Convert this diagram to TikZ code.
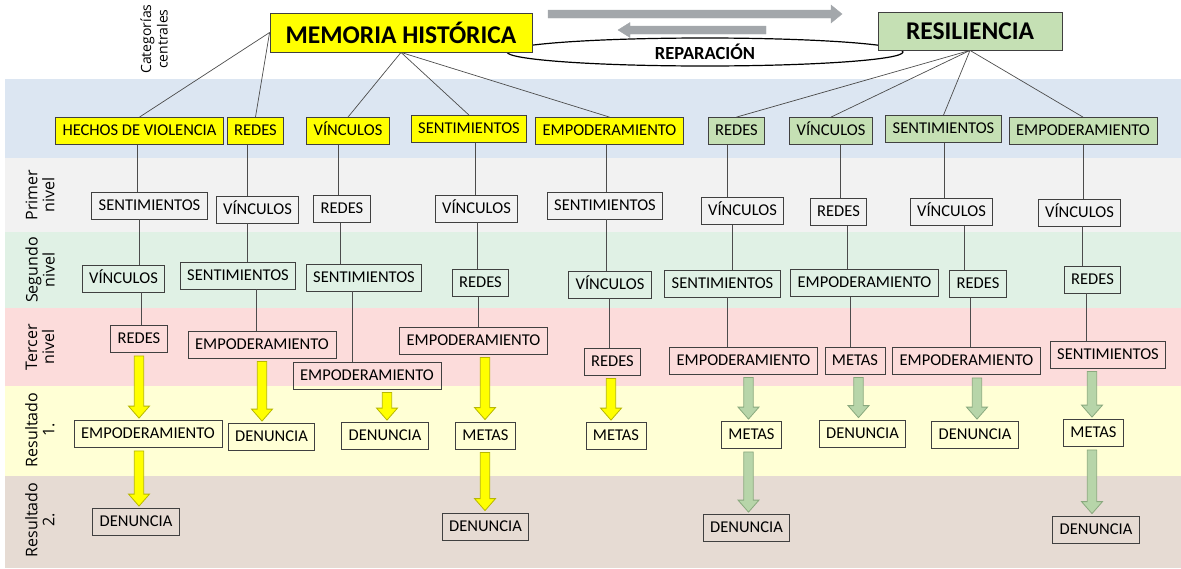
\documentclass[tikz,border=0pt]{standalone}
\usepackage{fontspec}
\setmainfont{Carlito}
\newfontfamily\labelfont{Open Sans}
\usetikzlibrary{positioning}
\usetikzlibrary{shapes.geometric}
\usetikzlibrary{calc}
\definecolor{bandblue}{HTML}{DCE6F2}
\definecolor{bandgrey}{HTML}{F2F2F2}
\definecolor{bandgreen}{HTML}{E0F1E5}
\definecolor{bandpink}{HTML}{FCDCDB}
\definecolor{bandyellow}{HTML}{FFFFD5}
\definecolor{bandbrown}{HTML}{E6DBD3}
\definecolor{memyellow}{HTML}{FFFF00}
\definecolor{resgreen}{HTML}{C5E0B4}
\definecolor{arrowgrey}{HTML}{A3A7AB}
\definecolor{yelline}{HTML}{B8B800}
\definecolor{greenfill}{HTML}{B7D5A9}
\definecolor{greenline}{HTML}{8AA97E}
% block arrow pointing down: from node, to node, x, style
\newcommand{\fatarrow}[4]{%
  \path (#1.south -| #3,0) coordinate (fa-t) (#2.north -| #3,0) coordinate (fa-b);
  \filldraw[#4] ($(fa-t)+(-4.7,3)$) -- ($(fa-b)+(-4.7,-14)$) -- ($(fa-b)+(-10.5,-14)$)
    -- ($(fa-b)+(0,-2)$) -- ($(fa-b)+(10.5,-14)$) -- ($(fa-b)+(4.7,-14)$)
    -- ($(fa-t)+(4.7,3)$) -- cycle;}

\begin{document}
\begin{tikzpicture}[x=1pt,y=-1pt,
  box/.style={draw=black!75, line width=0.8pt, inner xsep=7pt, minimum height=27pt,
    text height=11.5pt, text depth=2.5pt, font=\fontsize{16.5}{19}\selectfont},
  mbox/.style={box, fill=memyellow},
  rbox/.style={box, fill=resgreen},
  title/.style={draw=black!75, line width=0.8pt, inner sep=0pt,
    font=\bfseries\fontsize{25.5}{30}\selectfont},
  side/.style={rotate=90, align=center, font=\labelfont\fontsize{16}{17}\selectfont},
  link/.style={draw=black!70, line width=0.7pt},
  yarrow/.style={fill=memyellow, draw=yelline, line width=0.8pt},
  garrow/.style={fill=greenfill, draw=greenline, line width=0.8pt}]
\useasboundingbox (0,0) rectangle (1181,568);
% bands
\fill[bandblue] (5,79) rectangle (1181,158);
\fill[bandgrey] (5,158) rectangle (1181,232);
\fill[bandgreen] (5,232) rectangle (1181,308);
\fill[bandpink] (5,308) rectangle (1181,386);
\fill[bandyellow] (5,386) rectangle (1181,476);
\fill[bandbrown] (5,476) rectangle (1181,568);
% side labels
\node[side, font=\labelfont\fontsize{14}{16.5}\selectfont] (lab0) at (154,39) {Categorías\\centrales};
\node[side] (lab1) at (40,195) {Primer\\nivel};
\node[side] (lab2) at (40,270) {Segundo\\nivel};
\node[side] (lab3) at (40,347) {Tercer\\nivel};
\node[side] (lab4) at (40,430) {Resultado\\1.};
\node[side] (lab5) at (40,520) {Resultado\\2.};
% top
\filldraw[arrowgrey] (548,10) -- (831,10) -- (831,5) -- (842,14) -- (831,23) -- (831,18) -- (548,18) -- cycle;
\filldraw[arrowgrey] (766,26) -- (630,26) -- (630,22.5) -- (618,30) -- (630,37.5) -- (630,34) -- (766,34) -- cycle;
\node[ellipse, draw, line width=1.2pt, fill=white, inner sep=0pt, minimum width=396pt, minimum height=28pt,
  font=\bfseries\fontsize{18.5}{21}\selectfont] (rep) at (705,52) {REPARACIÓN};
\node[title, fill=memyellow, minimum width=262pt, minimum height=39pt] (mem) at (401,32.5) {MEMORIA HISTÓRICA};
\node[title, fill=resgreen, minimum width=184pt, minimum height=38pt] (res) at (970,31) {RESILIENCIA};
% categorias
\node[mbox] (m1) at (139.5,131) {HECHOS DE VIOLENCIA};
\node[mbox] (m2) at (255.5,131) {REDES};
\node[mbox] (m3) at (348,131) {VÍNCULOS};
\node[mbox] (m4) at (469,129) {SENTIMIENTOS};
\node[mbox] (m5) at (609.5,131) {EMPODERAMIENTO};
\node[rbox] (r1) at (736.5,131) {REDES};
\node[rbox] (r2) at (831,131) {VÍNCULOS};
\node[rbox] (r3) at (943.5,129) {SENTIMIENTOS};
\node[rbox] (r4) at (1083,131) {EMPODERAMIENTO};
\foreach \a in {m1,m2} \draw[link] (mem.west) -- (\a.north);
\foreach \a in {m3,m4,m5} \draw[link] (mem.south) -- (\a.north);
\foreach \a in {r1,r2,r3,r4} \draw[link] (res.south) -- (\a.north);
% primer nivel
\node[box] (a1) at (149.5,205.5) {SENTIMIENTOS};
\node[box] (a2) at (257.5,209.5) {VÍNCULOS};
\node[box] (a3) at (342,209) {REDES};
\node[box] (a4) at (476.5,208.5) {VÍNCULOS};
\node[box] (a5) at (605,205.5) {SENTIMIENTOS};
\node[box] (a6) at (742.5,211) {VÍNCULOS};
\node[box] (a7) at (838.5,212) {REDES};
\node[box] (a8) at (951.5,212) {VÍNCULOS};
\node[box] (a9) at (1079.5,212.5) {VÍNCULOS};
% segundo nivel
\node[box] (b1) at (123.5,278.5) {VÍNCULOS};
\node[box] (b2) at (238,275.5) {SENTIMIENTOS};
\node[box] (b3) at (364,277.5) {SENTIMIENTOS};
\node[box] (b4) at (480.5,283) {REDES};
\node[box] (b5) at (610,284.5) {VÍNCULOS};
\node[box] (b6) at (722.5,283.5) {SENTIMIENTOS};
\node[box] (b7) at (864.5,283) {EMPODERAMIENTO};
\node[box] (b8) at (978,284) {REDES};
\node[box] (b9) at (1092.5,279.5) {REDES};
% tercer nivel
\node[box] (c1) at (139,339) {REDES};
\node[box] (c2) at (262,344.5) {EMPODERAMIENTO};
\node[box] (c3) at (367,375.5) {EMPODERAMIENTO};
\node[box] (c4) at (473.5,340.5) {EMPODERAMIENTO};
\node[box] (c5) at (612.5,361.5) {REDES};
\node[box] (c6) at (743.5,360.5) {EMPODERAMIENTO};
\node[box] (c7) at (855,360.5) {METAS};
\node[box] (c8) at (966.5,361) {EMPODERAMIENTO};
\node[box] (c9) at (1108,354.5) {SENTIMIENTOS};
% resultado 1
\node[box] (d1) at (148,434) {EMPODERAMIENTO};
\node[box] (d2) at (271.5,437) {DENUNCIA};
\node[box] (d3) at (385,436) {DENUNCIA};
\node[box] (d4) at (485.5,435.5) {METAS};
\node[box] (d5) at (616,436) {METAS};
\node[box] (d6) at (751.5,435) {METAS};
\node[box] (d7) at (862.5,433.5) {DENUNCIA};
\node[box] (d8) at (975,435) {DENUNCIA};
\node[box] (d9) at (1093.5,433) {METAS};
% resultado 2
\node[box] (e1) at (136,522) {DENUNCIA};
\node[box] (e4) at (485.5,526.5) {DENUNCIA};
\node[box] (e6) at (746.5,528) {DENUNCIA};
\node[box] (e9) at (1096,529.5) {DENUNCIA};
% vertical links
\foreach \a/\b/\x in {m1/a1/137, m2/a2/247, m3/a3/338, m4/a4/475, m5/a5/606,
    r1/a6/727.5, r2/a7/840, r3/a8/944, r4/a9/1083,
    a1/b1/139, a2/b2/247, a3/b3/340, a4/b4/477, a5/b5/606,
    a6/b6/732.5, a7/b7/847, a8/b8/964, a9/b9/1082,
    b1/c1/141, b2/c2/256, b3/c3/352, b4/c4/478, b5/c5/609.5,
    b6/c6/727.5, b7/c7/850, b8/c8/970, b9/c9/1086.5}
  \draw[link] (\a.south -| \x,0) -- (\b.north -| \x,0);
% arrows
\foreach \a/\b/\x in {c1/d1/139, d1/e1/139, c2/d2/262, c3/d3/387, c4/d4/485, d4/e4/485, c5/d5/611}
  \fatarrow{\a}{\b}{\x}{yarrow};
\foreach \a/\b/\x in {c6/d6/748.5, d6/e6/748.5, c7/d7/858.5, c8/d8/977, c9/d9/1092, d9/e9/1092}
  \fatarrow{\a}{\b}{\x}{garrow};
\end{tikzpicture}
\end{document}
